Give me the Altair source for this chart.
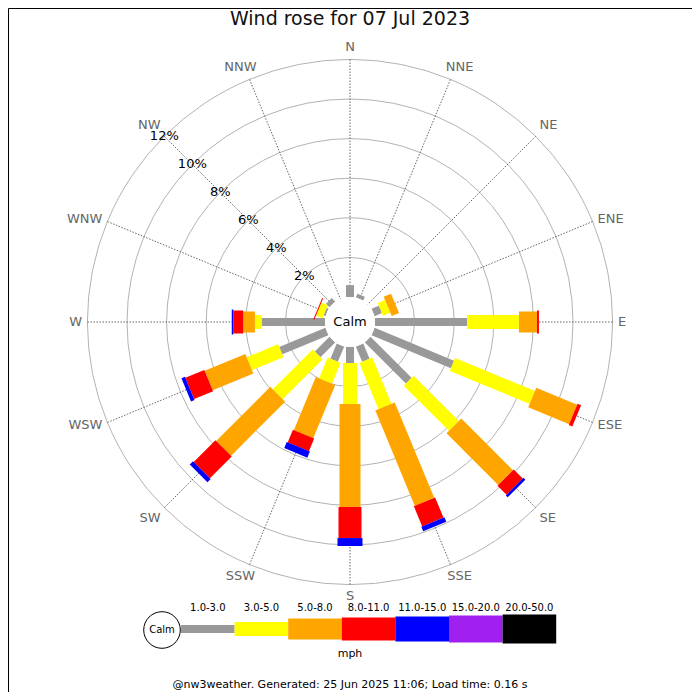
import altair as alt
import pandas as pd

# ---------------- data ----------------
DIRS = ["N", "NNE", "NE", "ENE", "E", "ESE", "SE", "SSE",
        "S", "SSW", "SW", "WSW", "W", "WNW", "NW", "NNW"]
BANDS = ["1.0-3.0", "3.0-5.0", "5.0-8.0", "8.0-11.0", "11.0-15.0", "15.0-20.0", "20.0-50.0"]
# percent of the day per direction, one list per speed band (mph)
B_1_3 = [0.6, 0.2, 0.0, 0.4, 4.65, 4.34, 2.93, 0.83, 0.81, 0.83, 1.05, 2.52, 3.2, 0.1, 0.25, 0.0]
B_3_5 = [0.0, 0.0, 0.0, 0.4, 2.62, 4.36, 3.23, 2.53, 2.07, 1.14, 2.85, 1.72, 0.34, 0.35, 0.0, 0.0]
B_5_8 = [0.0, 0.0, 0.0, 0.4, 0.91, 2.24, 3.69, 5.21, 5.2, 2.9, 3.87, 2.22, 0.59, 0.0, 0.0, 0.0]
B_8_11 = [0.0, 0.0, 0.0, 0.0, 0.1, 0.19, 0.65, 1.1, 1.57, 0.69, 1.55, 1.04, 0.5, 0.05, 0.0, 0.0]
B_11_15 = [0.0, 0.0, 0.0, 0.0, 0.0, 0.0, 0.13, 0.25, 0.4, 0.33, 0.23, 0.19, 0.08, 0.0, 0.0, 0.0]
B_15_20 = [0.0, 0.0, 0.0, 0.0, 0.0, 0.0, 0.0, 0.0, 0.0, 0.0, 0.0, 0.0, 0.0, 0.0, 0.0, 0.0]
B_20_50 = [0.0, 0.0, 0.0, 0.0, 0.0, 0.0, 0.0, 0.0, 0.0, 0.0, 0.0, 0.0, 0.0, 0.0, 0.0, 0.0]
RINGS = [2, 4, 6, 8, 10, 12]
RING_LABELS = ["2%", "4%", "6%", "8%", "10%", "12%"]
TITLE = "Wind rose for 07 Jul 2023"
UNIT = "mph"
CALM = "Calm"
FOOTER = "@nw3weather. Generated: 25 Jun 2025 11:06; Load time: 0.16 s"

# ---------------- style / layout ----------------
COLORS = ["#999999", "#ffff00", "#ffa500", "#ff0000", "#0000ff", "#a020f0", "#000000"]
WIDTHS = [8, 14, 21, 23, 25, 27, 29]
FONT = "DejaVu Sans"
W = H = 684
PX = 19.8                 # pixels per percent
CX, CY = 342, 314         # rose centre inside plot
CALM_R = 25 / PX          # calm circle radius, in percent units
LABEL_R = 268 / PX


def ux(px):  # page pixel -> unit
    return (px - 350) / PX


def uy(py):
    return (322 - py) / PX


xs = alt.Scale(domain=[-CX / PX, (W - CX) / PX], nice=False, zero=False)
ys = alt.Scale(domain=[-(H - CY) / PX, CY / PX], nice=False, zero=False)


def X(f):
    return alt.X(f, type="quantitative", scale=xs, axis=None)


def Y(f):
    return alt.Y(f, type="quantitative", scale=ys, axis=None)


band_lists = [B_1_3, B_3_5, B_5_8, B_8_11, B_11_15, B_15_20, B_20_50]
rows = []
for bi, (band, vals) in enumerate(zip(BANDS, band_lists)):
    for di, d in enumerate(DIRS):
        rows.append({"dir": d, "idx": di, "band": band, "order": bi, "value": vals[di]})
bar_df = pd.DataFrame(rows)
dir_df = pd.DataFrame({"dir": DIRS, "idx": list(range(len(DIRS)))})
ring_df = pd.DataFrame({"p": RINGS, "lab": RING_LABELS})
legend_df = pd.DataFrame({"band": BANDS, "order": list(range(len(BANDS)))})

color_enc = alt.Color("band:N", scale=alt.Scale(domain=BANDS, range=COLORS), legend=None)
size_enc = alt.Size("band:O", scale=alt.Scale(type="ordinal", domain=BANDS, range=WIDTHS), legend=None)

# rings
rings = alt.Chart(ring_df).transform_calculate(
    cx="0", cy="0", sz=f"pow(2*({CALM_R}+datum.p)*{PX}, 2)"
).mark_point(shape="circle", filled=False, stroke="#b3b3b3", strokeWidth=1, opacity=1).encode(
    x=X("cx"), y=Y("cy"), size=alt.Size("sz:Q", scale=None)
)

# spokes
spokes = alt.Chart(dir_df).transform_calculate(
    a="datum.idx*PI/8"
).transform_calculate(
    x0="0", y0="0",
    x1=f"({CALM_R}+{RINGS[-1]})*sin(datum.a)",
    y1=f"({CALM_R}+{RINGS[-1]})*cos(datum.a)",
).mark_rule(color="#555555", strokeWidth=0.9, strokeDash=[1.5, 1.5]).encode(
    x=X("x0"), y=Y("y0"), x2="x1", y2="y1"
)

# bars
bars = alt.Chart(bar_df).transform_filter("datum.value > 0").transform_stack(
    stack="value", groupby=["dir"], as_=["s0", "s1"], sort=[alt.SortField("order", order="ascending")]
).transform_calculate(
    a="datum.idx*PI/8"
).transform_calculate(
    bx0=f"({CALM_R}+datum.s0)*sin(datum.a)",
    by0=f"({CALM_R}+datum.s0)*cos(datum.a)",
    bx1=f"({CALM_R}+datum.s1)*sin(datum.a)",
    by1=f"({CALM_R}+datum.s1)*cos(datum.a)",
).mark_rule(strokeCap="butt", opacity=1).encode(
    x=X("bx0"), y=Y("by0"), x2="bx1", y2="by1", color=color_enc, size=size_enc
)

# calm circle
calm_df = pd.DataFrame({"t": [CALM]})
calm_circle = alt.Chart(calm_df).transform_calculate(cx="0", cy="0").mark_point(
    shape="circle", filled=True, fill="white", opacity=1, size=(2 * 25) ** 2
).encode(x=X("cx"), y=Y("cy"))
calm_text = alt.Chart(calm_df).transform_calculate(cx="0", cy="0").mark_text(
    font=FONT, fontSize=13, color="black", align="center", baseline="middle"
).encode(x=X("cx"), y=Y("cy"), text="t:N")

# percent labels along NW
pct = alt.Chart(ring_df).transform_calculate(
    lx=f"-({CALM_R}+datum.p)*sin(PI/4)", ly=f"({CALM_R}+datum.p)*cos(PI/4)"
).mark_text(font=FONT, fontSize=13, color="black", align="center", baseline="middle").encode(
    x=X("lx"), y=Y("ly"), text="lab:N"
)

# direction labels
dir_layers = []
for align, afilt in [("left", "datum.s > 0.5"), ("right", "datum.s < -0.5"), ("center", "abs(datum.s) <= 0.5")]:
    for baseline, bfilt in [("bottom", "datum.c > 0.5"), ("top", "datum.c < -0.5"), ("middle", "abs(datum.c) <= 0.5")]:
        subs = [(0, "true")]
        if align == "center":
            subs = [(7, "datum.s > 0.1"), (-7, "datum.s < -0.1"), (0, "abs(datum.s) <= 0.1")]
        for dx, dfilt in subs:
            expr = f"({afilt}) && ({bfilt}) && ({dfilt})"
            dir_layers.append(
                alt.Chart(dir_df).transform_calculate(
                    s="sin(datum.idx*PI/8)", c="cos(datum.idx*PI/8)"
                ).transform_filter(expr).transform_calculate(
                    lx=f"{LABEL_R}*datum.s", ly=f"{LABEL_R}*datum.c"
                ).mark_text(font=FONT, fontSize=13, color="#666666", align=align, baseline=baseline, dx=dx).encode(
                    x=X("lx"), y=Y("ly"), text="dir:N"
                )
            )

# legend
LEG_X0 = ux(181)
LEG_STEP = 53.6 / PX
leg_bars = alt.Chart(legend_df).transform_calculate(
    lx0=f"{LEG_X0}+datum.order*{LEG_STEP}",
    lx1=f"{LEG_X0}+(datum.order+1)*{LEG_STEP}",
    ly=f"{uy(629)}",
).mark_rule(strokeCap="butt", opacity=1).encode(
    x=X("lx0"), x2="lx1", y=Y("ly"), color=color_enc, size=size_enc
)
leg_labels = alt.Chart(legend_df).transform_calculate(
    lx=f"{LEG_X0}+(datum.order+0.5)*{LEG_STEP}", ly=f"{uy(608)}"
).mark_text(font=FONT, fontSize=10, color="black", align="center", baseline="middle").encode(
    x=X("lx"), y=Y("ly"), text="band:N"
)
leg_calm = alt.Chart(calm_df).transform_calculate(cx=f"{ux(162)}", cy=f"{uy(630)}").mark_point(
    shape="circle", filled=True, fill="white", stroke="black", strokeWidth=1, opacity=1, size=36.6 ** 2
).encode(x=X("cx"), y=Y("cy"))
leg_calm_text = alt.Chart(calm_df).transform_calculate(cx=f"{ux(162)}", cy=f"{uy(630)}").mark_text(
    font=FONT, fontSize=10, color="black", align="center", baseline="middle"
).encode(x=X("cx"), y=Y("cy"), text="t:N")
unit_df = pd.DataFrame({"t": [UNIT]})
leg_unit = alt.Chart(unit_df).transform_calculate(cx=f"{ux(350)}", cy=f"{uy(654)}").mark_text(
    font=FONT, fontSize=11, color="black", align="center", baseline="middle"
).encode(x=X("cx"), y=Y("cy"), text="t:N")

# title and footer
title = alt.Chart(pd.DataFrame({"t": [TITLE]})).mark_text(
    font=FONT, fontSize=19, color="#111111", align="center", baseline="middle"
).encode(x=alt.value(342), y=alt.value(11), text="t:N")
footer = alt.Chart(pd.DataFrame({"t": [FOOTER]})).mark_text(
    font=FONT, fontSize=11, color="black", align="center", baseline="middle"
).encode(x=alt.value(342), y=alt.value(677), text="t:N")

chart = alt.layer(
    rings, spokes, bars, calm_circle, calm_text, pct, *dir_layers,
    leg_bars, leg_calm, leg_calm_text, leg_labels, leg_unit, title, footer
).properties(
    width=W, height=H, padding=0, autosize=alt.AutoSizeParams(type="none")
).configure_view(stroke="black", strokeWidth=1)

chart.save("out.html", embed_options={"renderer": "svg", "actions": False})
